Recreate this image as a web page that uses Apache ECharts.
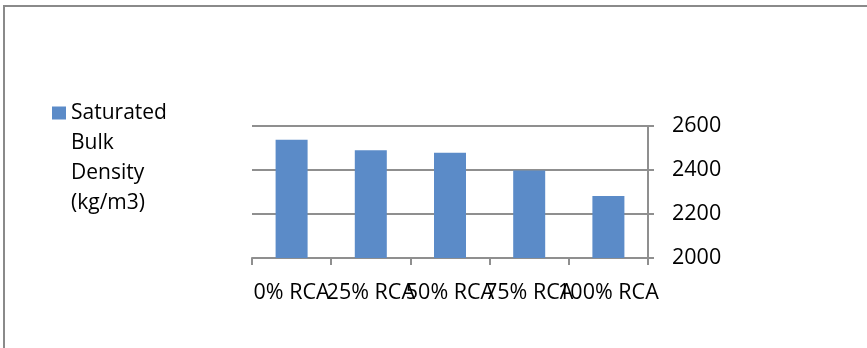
<!DOCTYPE html>
<html>
<head>
<meta charset="utf-8">
<script src="https://cdn.jsdelivr.net/npm/echarts@6/dist/echarts.min.js"></script>
<style>
  html, body { margin: 0; padding: 0; background: #fff; }
  #chart { width: 867px; height: 348px; }
</style>
</head>
<body>
<div id="chart"></div>
<script>
// Saturated bulk density for each recycled concrete aggregate replacement level
const categories = ['0% RCA', '25% RCA', '50% RCA', '75% RCA', '100% RCA'];
const densityValues = [2538, 2490, 2478, 2398, 2282];
const seriesName = 'Saturated Bulk Density (kg/m3)';
const legendLines = ['Saturated', 'Bulk', 'Density', '(kg/m3)'];
const yTicks = { min: 2000, max: 2600, step: 200 };

const FONT = '"Open Sans", "Noto Sans", sans-serif';
const GRID_GREY = '#8f8f8f';

const chart = echarts.init(document.getElementById('chart'), null, { renderer: 'canvas' });

// The legend icon sits at the vertical centre of its text block, so blank
// lines are put in front of the wrapped name to line the icon up with its first line.
const legendText = legendLines.map(() => '').slice(1).concat(legendLines).join('\n');

chart.setOption({
  backgroundColor: '#ffffff',
  animation: false,
  textStyle: { fontFamily: FONT },
  graphic: [
    // outer frame: top and left edges
    { type: 'rect', shape: { x: 3, y: 5, width: 864, height: 2 }, style: { fill: '#8a8a8a' }, silent: true },
    { type: 'rect', shape: { x: 3, y: 5, width: 2, height: 343 }, style: { fill: '#8a8a8a' }, silent: true }
  ],
  legend: {
    left: 47,
    top: 3,
    orient: 'vertical',
    itemWidth: 14,
    itemHeight: 13,
    icon: 'rect',
    data: [seriesName],
    formatter: () => legendText,
    textStyle: {
      fontFamily: FONT,
      fontSize: 21,
      color: '#000',
      lineHeight: 30
    }
  },
  grid: { left: 252, right: 219, top: 126, bottom: 90, containLabel: false },
  xAxis: {
    type: 'category',
    data: categories,
    boundaryGap: true,
    axisLine: { show: true, lineStyle: { color: GRID_GREY, width: 2 } },
    axisTick: { show: true, interval: 0, length: 7, lineStyle: { color: GRID_GREY, width: 2 } },
    axisLabel: { interval: 0, margin: 24, fontSize: 21.5, color: '#000', fontFamily: FONT }
  },
  yAxis: {
    type: 'value',
    position: 'right',
    min: yTicks.min,
    max: yTicks.max,
    interval: yTicks.step,
    axisLine: { show: true, lineStyle: { color: GRID_GREY, width: 2 } },
    axisTick: { show: true, length: 6, lineStyle: { color: GRID_GREY, width: 2 } },
    axisLabel: { margin: 24, fontSize: 21.5, color: '#000', fontFamily: FONT, formatter: (v) => String(v) },
    splitLine: { show: true, lineStyle: { color: GRID_GREY, width: 2 } }
  },
  series: [{
    name: seriesName,
    type: 'bar',
    data: densityValues,
    barWidth: 32,
    itemStyle: { color: '#5b8bc8' }
  }]
});
</script>
</body>
</html>
